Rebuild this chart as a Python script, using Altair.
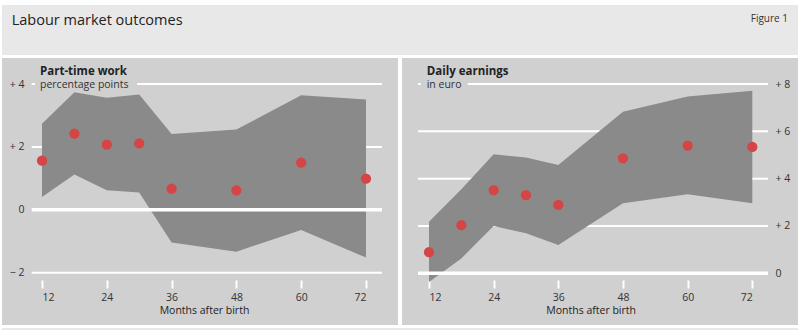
import altair as alt
import pandas as pd

FONT = "Open Sans"
PANEL = "#d0d0d0"
BOX = "#e8e8e8"
BAND = "#8a8a8a"
DOT = "#d64545"
TXT = "#222222"

months = [12, 18, 24, 30, 36, 48, 60, 72]
x_ticks = [12, 24, 36, 48, 60, 72]

pt_est = [1.56, 2.42, 2.07, 2.11, 0.67, 0.62, 1.50, 0.99]
pt_hi = [2.74, 3.74, 3.56, 3.67, 2.41, 2.55, 3.64, 3.51]
pt_lo = [0.41, 1.12, 0.62, 0.55, -1.04, -1.33, -0.64, -1.52]
pt_yticks = [-2, 0, 2, 4]

de_est = [0.89, 2.04, 3.52, 3.30, 2.89, 4.86, 5.40, 5.34]
de_hi = [2.18, 3.55, 5.03, 4.89, 4.58, 6.83, 7.47, 7.72]
de_lo = [-0.37, 0.63, 2.00, 1.69, 1.20, 2.96, 3.34, 2.96]
de_yticks = [0, 2, 4, 6, 8]

LABEL_EXPR = ("datum.value > 0 ? '+ ' + datum.value : "
              "(datum.value < 0 ? '\u2212 ' + abs(datum.value) : '0')")


def panel(est, hi, lo, yticks, ydom, yrange, xrange, yorient, yoffset, ypad,
          grid_x, grid_x2, title, subtitle, tx, sub_rect):
    df = pd.DataFrame({"m": months, "est": est, "hi": hi, "lo": lo})
    gdf = pd.DataFrame({"v": yticks})
    xs = alt.Scale(domain=[12, 72], range=xrange, nice=False, zero=False)
    ys = alt.Scale(domain=ydom, range=yrange, nice=False, zero=False)
    xaxis = alt.Axis(values=x_ticks, orient="bottom", offset=-45, domain=False,
                     grid=False, tickColor="white", tickWidth=2, tickSize=8,
                     labelFont=FONT, labelFontSize=10.5, labelColor="#333333",
                     labelPadding=4, title="Months after birth", titleFont=FONT,
                     titleFontSize=10.5, titleFontWeight=500, titleColor=TXT,
                     titlePadding=3)
    yaxis = alt.Axis(values=yticks, orient=yorient, offset=yoffset, domain=False,
                     grid=False, ticks=False, labelFont=FONT, labelFontSize=10.5,
                     labelColor="#333333", labelPadding=ypad, labelExpr=LABEL_EXPR,
                     title=None)
    X = alt.X("m:Q", scale=xs, axis=xaxis)

    grid = alt.Chart(gdf).transform_filter("datum.v != 0").mark_rule(
        color="white", strokeWidth=2).encode(
        y=alt.Y("v:Q", scale=ys, axis=yaxis),
        x=alt.value(grid_x), x2=alt.value(grid_x2))
    zero = alt.Chart(gdf).transform_filter("datum.v == 0").mark_rule(
        color="white", strokeWidth=3.5).encode(
        y=alt.Y("v:Q", scale=ys, axis=yaxis),
        x=alt.value(grid_x), x2=alt.value(grid_x2))
    band = alt.Chart(df).mark_area(color=BAND, opacity=1).encode(
        x=X, y=alt.Y("lo:Q", scale=ys, axis=yaxis), y2="hi:Q")
    dots = alt.Chart(df).mark_circle(color=DOT, size=105, opacity=1).encode(
        x=X, y=alt.Y("est:Q", scale=ys, axis=yaxis))
    tdf = pd.DataFrame({"t": [title], "s": [subtitle]})
    cover = alt.Chart(tdf).mark_rect(color=PANEL).encode(
        x=alt.value(sub_rect[0]), x2=alt.value(sub_rect[1]),
        y=alt.value(sub_rect[2]), y2=alt.value(sub_rect[3]))
    ttl = alt.Chart(tdf).mark_text(align="left", baseline="alphabetic", font=FONT,
                                   fontSize=11.5, fontWeight="bold", color=TXT).encode(
        x=alt.value(tx), y=alt.value(16.5), text="t:N")
    sub = alt.Chart(tdf).mark_text(align="left", baseline="alphabetic", font=FONT,
                                   fontSize=10.5, color="#333333").encode(
        x=alt.value(tx), y=alt.value(29.5), text="s:N")
    return alt.layer(grid, band, zero, dots, cover, ttl, sub).properties(
        width=396, height=267, view=alt.ViewBackground(fill=PANEL, stroke=None))


left = panel(pt_est, pt_hi, pt_lo, pt_yticks, [-2, 4], [214.7, 26], [40, 364],
             "left", -30, 8, 29.7, 380, "Part-time work", "percentage points",
             38, [33, 135, 22.5, 34])
right = panel(de_est, de_hi, de_lo, de_yticks, [0, 8], [215.3, 26], [27, 350.3],
              "right", -30, 7, 16, 366, "Daily earnings", "in euro",
              24.7, [18.7, 65.7, 22.5, 34])

hdr = pd.DataFrame({"t": ["Labour market outcomes"], "f": ["Figure 1"]})
head_t = alt.Chart(hdr).mark_text(align="left", baseline="alphabetic", font=FONT,
                                  fontSize=14.5, color=TXT).encode(
    x=alt.value(9.7), y=alt.value(20), text="t:N")
head_f = alt.Chart(hdr).mark_text(align="right", baseline="alphabetic", font=FONT,
                                  fontSize=10, color="#333333").encode(
    x=alt.value(786), y=alt.value(16.7), text="f:N")
header = alt.layer(head_t, head_f).properties(
    width=796, height=50, view=alt.ViewBackground(fill=BOX, stroke=None))

strip = alt.Chart(hdr).mark_rect(color=BOX).encode(
    x=alt.value(0), x2=alt.value(796), y=alt.value(0), y2=alt.value(2)).properties(
    width=796, height=2, view=alt.ViewBackground(fill=BOX, stroke=None))

chart = alt.vconcat(header, alt.hconcat(left, right, spacing=4), strip,
                    spacing=3).properties(
    padding={"left": 2, "top": 5, "right": 2, "bottom": 0},
    background="white").configure_view(stroke=None)

chart.save("out.html", embed_options={"renderer": "svg", "actions": False})
